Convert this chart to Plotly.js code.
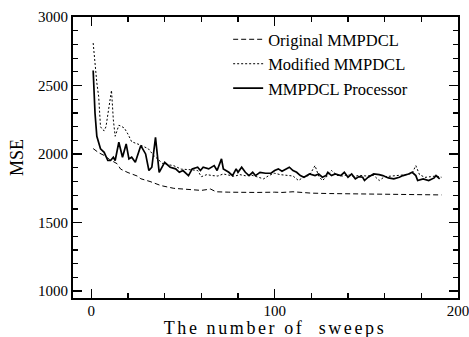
<!DOCTYPE html>
<html>
<head>
<meta charset="utf-8">
<script src="https://cdn.plot.ly/plotly-3.0.1.min.js"></script>
<style>
html,body{margin:0;padding:0;background:#fff;}
</style>
</head>
<body>
<div id="chart" style="width:469px;height:337px;"></div>
<script>
// Original MMPDCL (dashed)
const origX = [1,4,7,10,14,16,20,25,27,32,38,45,50,56,60,65,68,75,80,90,100,104,110,115,120,130,140,150,160,170,180,191];
const origY = [2040,2010,1990,1960,1930,1890,1865,1840,1820,1800,1770,1750,1745,1740,1735,1745,1725,1722,1720,1720,1722,1720,1725,1718,1715,1712,1710,1708,1706,1705,1703,1702];

// Modified MMPDCL (dotted)
const modX = [1,2,3,4,5,6,7,8,9,10,11,12,13,14,15,16,18,20,22,26,31,34,36,39,45,49,55,58,60,63,66,69,72,75,78,81,84,87,90,94,97,100,103,106,110,113,116,119,122,124,126,128,131,134,137,140,143,146,150,154,157,160,164,168,172,175,177,179,182,185,188,191];
const modY = [2810,2650,2520,2420,2200,2180,2170,2200,2300,2400,2465,2250,2130,2170,2210,2205,2190,2145,2090,2070,2040,1990,1965,1930,1915,1890,1885,1880,1835,1850,1843,1840,1855,1845,1838,1850,1842,1848,1835,1819,1845,1860,1850,1845,1840,1807,1835,1845,1916,1840,1807,1830,1880,1845,1840,1850,1835,1845,1840,1845,1807,1835,1840,1845,1850,1860,1916,1850,1830,1835,1840,1831];

// MMPDCL Processor (solid)
const procX = [1,2,3,5,7,9,10.5,12,13,15,17,19,20.5,22,24,27,29.6,31.4,33,35,37,40,43,46,48,50,53,55,58,59.5,61,64,67,68.6,71,72,75,77,79,80,82,84,86,88,89.5,92,95,98,100,102,104,106,108,110,112,114,116,119,122,124,126,128,129,131,133,136,138,140,142,144,146,148,149,151,154,157,159,162,165,168,170,173,175,177,178,181,184,187,188,190];
const procY = [2610,2300,2130,2038,2013,1953,1953,1977,1953,2086,1977,2074,1965,1977,1940,2062,2001,1880,1904,2122,1867,1940,1904,1892,1867,1880,1843,1892,1904,1880,1904,1892,1916,1880,1965,1892,1867,1843,1892,1867,1904,1867,1843,1867,1843,1867,1860,1860,1880,1892,1875,1892,1904,1880,1867,1843,1831,1855,1843,1855,1831,1843,1867,1843,1855,1843,1867,1831,1855,1819,1836,1831,1807,1831,1855,1850,1843,1826,1819,1831,1843,1855,1867,1843,1807,1819,1807,1826,1843,1819];

const seriesNames = ["Original MMPDCL", "Modified MMPDCL", "MMPDCL Processor"];
const xTicks = [0, 100, 200];
const yTicks = [1000, 1500, 2000, 2500, 3000];
const xTitle = 'The number of  sweeps';
const yTitle = 'MSE';

const traces = [
  {x: origX, y: origY, name: seriesNames[0], mode: 'lines', line: {color: '#000', width: 1, dash: '5px,3px'}},
  {x: modX, y: modY, name: seriesNames[1], mode: 'lines', line: {color: '#000', width: 1, dash: '2px,2px'}},
  {x: procX, y: procY, name: seriesNames[2], mode: 'lines', line: {color: '#000', width: 1.7}}
];

const font = {family: '"Liberation Serif", "DejaVu Serif", serif', color: '#000'};

const layout = {
  width: 469, height: 337,
  margin: {l: 73, r: 11, t: 17, b: 39},
  paper_bgcolor: '#fff', plot_bgcolor: '#fff',
  showlegend: true,
  legend: {
    x: 0.403, y: 0.982, xanchor: 'left', yanchor: 'top',
    bgcolor: 'rgba(0,0,0,0)', borderwidth: 0,
    font: Object.assign({}, font, {size: 16.5}),
    tracegroupgap: 0
  },
  xaxis: {
    range: [-10, 200],
    tickvals: xTicks, ticktext: xTicks.map(String),
    ticks: 'inside', ticklen: 9, tickwidth: 1.5, tickcolor: '#000',
    minor: {dtick: 20, tick0: 0, ticks: 'inside', ticklen: 5, tickwidth: 1.2, tickcolor: '#000'},
    showline: true, linecolor: '#000', linewidth: 2, mirror: 'ticks',
    showgrid: false, zeroline: false,
    ticklabeloverflow: 'allow', ticklabelstandoff: -2,
    tickfont: Object.assign({}, font, {size: 15})
  },
  yaxis: {
    range: [950, 3000],
    tickvals: yTicks, ticktext: yTicks.map(String),
    ticks: 'inside', ticklen: 9, tickwidth: 1.5, tickcolor: '#000',
    minor: {dtick: 100, tick0: 0, ticks: 'inside', ticklen: 5, tickwidth: 1.2, tickcolor: '#000'},
    showline: true, linecolor: '#000', linewidth: 2, mirror: 'ticks',
    showgrid: false, zeroline: false,
    ticklabeloverflow: 'allow',
    tickfont: Object.assign({}, font, {size: 15}),
    title: {text: yTitle, font: Object.assign({}, font, {size: 18}), standoff: 10}
  },
  annotations: [{
    text: xTitle, xref: 'paper', yref: 'paper', x: 0.5, y: -0.145,
    xanchor: 'center', yanchor: 'bottom', xshift: 9, showarrow: false,
    borderpad: 0,
    font: Object.assign({}, font, {size: 18})
  }]
};

Plotly.newPlot('chart', traces, layout, {displayModeBar: false, staticPlot: true}).then(function(){
  document.querySelectorAll('.annotation-text').forEach(function(t){ t.style.letterSpacing = '2.6px'; });
});
</script>
</body>
</html>
